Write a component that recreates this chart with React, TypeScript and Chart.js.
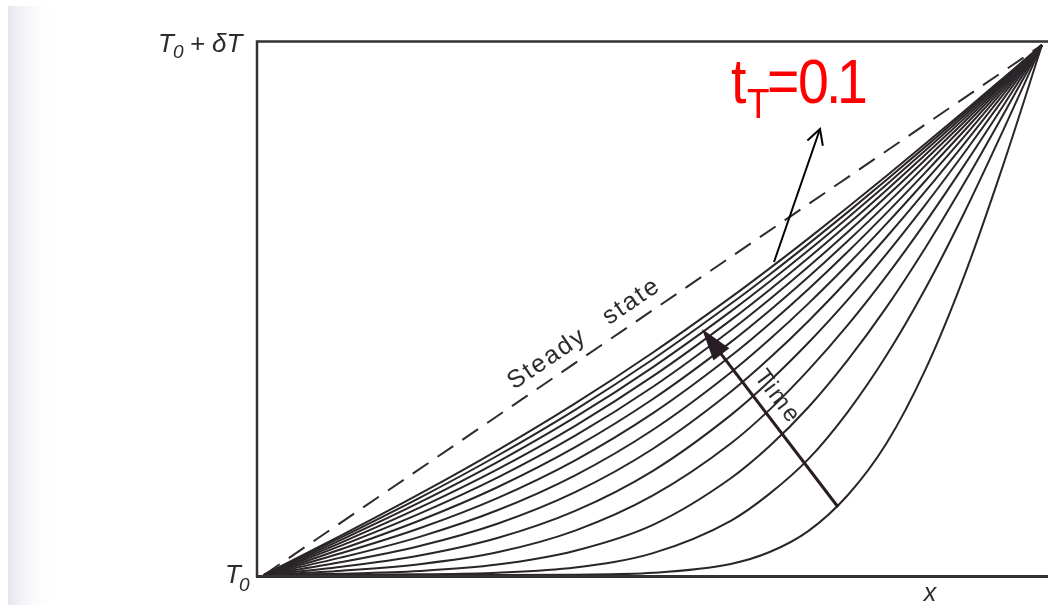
import React, { useEffect, useRef } from "react";
import { Chart, registerables } from "chart.js";

Chart.register(...registerables);

// Position along the slab (0 = cold face, 1 = heated face)
const xPositions = [0, 0.1, 0.2, 0.3, 0.4, 0.5, 0.6, 0.65, 0.7, 0.75, 0.8, 0.85, 0.9, 0.95, 1];

// Steady state (dashed straight line)
const steadyX = [0, 1];
const steadyY = [0, 1];

// Transient temperature profiles, earliest first (normalized 0..1)
const profile01 = [0, 0, 0, 0, 0.0006, 0.0041, 0.0209, 0.0433, 0.0833, 0.150, 0.248, 0.387, 0.564, 0.773, 1];
const profile02 = [0, 0.0002, 0.0012, 0.0044, 0.0142, 0.0413, 0.1022, 0.1535, 0.219, 0.307, 0.414, 0.54, 0.683, 0.8386, 1];
const profile03 = [0, 0.0025, 0.0076, 0.0196, 0.0458, 0.0946, 0.1825, 0.2433, 0.317, 0.405, 0.505, 0.617, 0.739, 0.868, 1];
const profile04 = [0, 0.008, 0.0204, 0.0428, 0.0837, 0.15, 0.248, 0.312, 0.387, 0.471, 0.564, 0.665, 0.773, 0.885, 1];
const profile05 = [0, 0.0156, 0.0369, 0.0699, 0.121, 0.1966, 0.3017, 0.3661, 0.4386, 0.5186, 0.6056, 0.6985, 0.7963, 0.8973, 1];
const profile06 = [0, 0.0244, 0.0547, 0.0968, 0.1563, 0.2382, 0.3456, 0.4093, 0.4794, 0.5556, 0.6373, 0.7237, 0.8137, 0.9062, 1];
const profile07 = [0, 0.0332, 0.072, 0.1221, 0.1881, 0.2741, 0.3822, 0.4447, 0.5125, 0.5853, 0.6624, 0.7434, 0.8272, 0.9131, 1];
const profile08 = [0, 0.0415, 0.0882, 0.1451, 0.2164, 0.3053, 0.4131, 0.4742, 0.5398, 0.6095, 0.6829, 0.7593, 0.8382, 0.9187, 1];
const profile09 = [0, 0.049, 0.1028, 0.1656, 0.2412, 0.3321, 0.4394, 0.4991, 0.5627, 0.6297, 0.6998, 0.7725, 0.8472, 0.9233, 1];
const profile10 = [0, 0.0558, 0.1157, 0.1836, 0.2628, 0.3552, 0.4618, 0.5203, 0.582, 0.6467, 0.7141, 0.7836, 0.8548, 0.9271, 1];
const profile11 = [0, 0.0617, 0.127, 0.1994, 0.2815, 0.3751, 0.4809, 0.5383, 0.5985, 0.6612, 0.7261, 0.7929, 0.8611, 0.9303, 1];
const profile12 = [0, 0.0669, 0.1369, 0.2131, 0.2977, 0.3923, 0.4974, 0.5538, 0.6126, 0.6736, 0.7364, 0.8009, 0.8666, 0.9331, 1];
const profile13 = [0, 0.0714, 0.1455, 0.225, 0.3117, 0.4071, 0.5117, 0.5671, 0.6248, 0.6842, 0.7453, 0.8078, 0.8713, 0.9355, 1];
const profile14 = [0, 0.0752, 0.1529, 0.2352, 0.3238, 0.4199, 0.5238, 0.5786, 0.6352, 0.6933, 0.7529, 0.8136, 0.8752, 0.9375, 1];

const profiles = [
  profile01, profile02, profile03, profile04, profile05, profile06, profile07,
  profile08, profile09, profile10, profile11, profile12, profile13, profile14,
];

// Labels
const yTopLabel = ["T", "0", " + δT"];
const yBottomLabel = ["T", "0"];
const xLabel = "x";
const steadyWords = ["Steady", "state"];
const timeLabel = "Time";
const redLabel = ["t", "T", "=", "0", ".", "1"];

export default function App() {
  const ref = useRef<HTMLCanvasElement>(null);

  useEffect(() => {
    document.body.style.margin = "0";
    const canvas = ref.current!;
    const ink = "#2a2528";

    const annot = {
      id: "annot",
      beforeDraw(chart: any) {
        const c = chart.ctx as CanvasRenderingContext2D;
        c.save();
        c.fillStyle = "#ffffff";
        c.fillRect(0, 0, 1048, 605);
        const g = c.createLinearGradient(8, 0, 58, 0);
        g.addColorStop(0, "rgba(212,212,228,0.6)");
        g.addColorStop(0.4, "rgba(228,228,238,0.3)");
        g.addColorStop(1, "rgba(255,255,255,0)");
        c.fillStyle = g;
        c.fillRect(8, 6, 50, 599);
        c.restore();
      },
      afterDraw(chart: any) {
        const c = chart.ctx as CanvasRenderingContext2D;
        c.save();
        // frame
        c.strokeStyle = "#343034";
        c.lineWidth = 2.5;
        c.beginPath();
        c.moveTo(1048, 41.5);
        c.lineTo(257, 41.5);
        c.lineTo(257, 577);
        c.stroke();
        c.lineWidth = 3;
        c.beginPath();
        c.moveTo(256, 576.5);
        c.lineTo(1048, 576.5);
        c.stroke();

        // axis labels
        c.fillStyle = "#2e2b2e";
        c.textBaseline = "alphabetic";
        c.textAlign = "left";
        let x = 158;
        c.font = "italic 26px 'Liberation Sans', Arial, sans-serif";
        c.fillText(yTopLabel[0], x, 52);
        x += c.measureText(yTopLabel[0]).width - 1;
        c.font = "italic 19px 'Liberation Sans', Arial, sans-serif";
        c.fillText(yTopLabel[1], x, 58);
        x += c.measureText(yTopLabel[1]).width - 1;
        c.font = "italic 26px 'Liberation Sans', Arial, sans-serif";
        c.fillText(yTopLabel[2], x, 52);

        x = 225;
        c.fillText(yBottomLabel[0], x, 583);
        x += c.measureText(yBottomLabel[0]).width - 2;
        c.font = "italic 19px 'Liberation Sans', Arial, sans-serif";
        c.fillText(yBottomLabel[1], x, 591);

        c.font = "italic 25px 'Liberation Sans', Arial, sans-serif";
        c.textAlign = "center";
        c.fillText(xLabel, 930, 601);

        // Steady state label (two words along the dashed line)
        c.save();
        c.translate(514, 390);
        c.rotate(-Math.atan(530 / 778));
        c.font = "25px 'Liberation Sans', Arial, sans-serif";
        (c as any).letterSpacing = "2px";
        c.textAlign = "left";
        c.fillText(steadyWords[0], 0, 0);
        c.fillText(steadyWords[1], 115, 0);
        c.restore();

        // Time label
        c.save();
        c.translate(772, 401);
        c.rotate((53 * Math.PI) / 180);
        c.font = "24px 'Liberation Sans', Arial, sans-serif";
        (c as any).letterSpacing = "2px";
        c.textAlign = "center";
        c.fillText(timeLabel, 0, 0);
        c.restore();

        // Time arrow
        const ax0 = 838, ay0 = 507, ax1 = 702, ay1 = 329;
        const ang = Math.atan2(ay1 - ay0, ax1 - ax0);
        c.strokeStyle = "#2a1c24";
        c.fillStyle = "#2a1c24";
        c.lineWidth = 3;
        c.beginPath();
        c.moveTo(ax0, ay0);
        c.lineTo(ax1 - Math.cos(ang) * 20, ay1 - Math.sin(ang) * 20);
        c.stroke();
        const hl = 32, hw = 10;
        const bx = ax1 - Math.cos(ang) * hl, by = ay1 - Math.sin(ang) * hl;
        c.beginPath();
        c.moveTo(ax1, ay1);
        c.lineTo(bx + Math.sin(ang) * hw, by - Math.cos(ang) * hw);
        c.lineTo(bx - Math.sin(ang) * hw, by + Math.cos(ang) * hw);
        c.closePath();
        c.fill();

        // thin annotation arrow
        const tx0 = 774, ty0 = 262, tx1 = 820, ty1 = 129;
        const a2 = Math.atan2(ty1 - ty0, tx1 - tx0);
        c.strokeStyle = "#000000";
        c.lineWidth = 2;
        c.beginPath();
        c.moveTo(tx0, ty0);
        c.lineTo(tx1, ty1);
        c.stroke();
        c.beginPath();
        const al = 17, sp = 0.5;
        c.moveTo(tx1 - Math.cos(a2 - sp) * al, ty1 - Math.sin(a2 - sp) * al);
        c.lineTo(tx1, ty1);
        c.lineTo(tx1 - Math.cos(a2 + sp) * al, ty1 - Math.sin(a2 + sp) * al);
        c.stroke();

        // red label, glyph by glyph, slightly condensed
        c.fillStyle = "#ff0000";
        c.textAlign = "left";
        const sx = 0.88;
        const glyph = (s: string, px: number, py: number, size: number) => {
          c.save();
          c.scale(sx, 1);
          c.font = size + "px 'Liberation Sans', Arial, sans-serif";
          c.fillText(s, px / sx, py);
          c.restore();
        };
        glyph(redLabel[0], 731, 103, 63);
        glyph(redLabel[1], 747, 118, 42);
        glyph(redLabel[2], 767, 103, 63);
        glyph(redLabel[3], 798, 103, 63);
        glyph(redLabel[4], 826, 103, 63);
        glyph(redLabel[5], 837, 103, 63);
        c.restore();
      },
    };

    const datasets: any[] = profiles.map((p) => ({
      data: xPositions.map((xv, i) => ({ x: xv, y: p[i] })),
      borderColor: ink,
      borderWidth: 2,
      pointRadius: 0,
      fill: false,
      cubicInterpolationMode: "monotone",
    }));
    datasets.push({
      data: steadyX.map((xv, i) => ({ x: xv, y: steadyY[i] })),
      borderColor: "#2e2a2e",
      borderWidth: 2,
      borderDash: [19, 11],
      pointRadius: 0,
      fill: false,
    });

    const chart = new Chart(canvas, {
      type: "line",
      data: { datasets },
      options: {
        responsive: false,
        animation: false,
        layout: { padding: { left: 258, top: 42, right: 3, bottom: 29 } },
        scales: {
          x: { type: "linear", min: -0.0077, max: 1.0039, display: false },
          y: { type: "linear", min: -0.0019, max: 1.0057, display: false },
        },
        plugins: { legend: { display: false }, tooltip: { enabled: false } },
        elements: { point: { radius: 0 } },
      },
      plugins: [annot],
    });
    return () => chart.destroy();
  }, []);

  return <canvas ref={ref} width={1048} height={605} style={{ display: "block" }} />;
}
